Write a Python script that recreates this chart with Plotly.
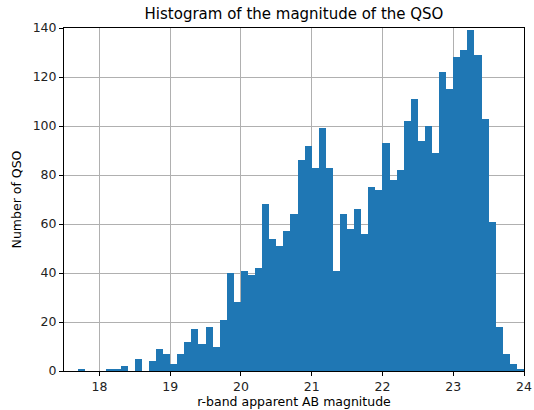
import plotly.graph_objects as go

# Histogram bins (r-band magnitude), width 0.1, left edges from 17.5
bin_start = 17.5
bin_width = 0.1
counts = [0, 0, 1, 0, 0, 0, 1, 1, 2, 0,
          5, 0, 4, 9, 7, 3, 7, 12, 17, 11,
          18, 10, 21, 40, 28, 41, 39, 42, 68, 54,
          51, 57, 64, 86, 92, 83, 99, 83, 41, 64,
          58, 66, 56, 75, 74, 93, 78, 82, 102, 111,
          94, 100, 89, 122, 115, 128, 131, 139, 129, 103,
          61, 18, 7, 3, 1]
x_ticks = [18, 19, 20, 21, 22, 23, 24]
y_ticks = [0, 20, 40, 60, 80, 100, 120, 140]

centers = [bin_start + bin_width * (i + 0.5) for i in range(len(counts))]

fig = go.Figure(go.Bar(
    x=centers, y=counts, width=bin_width,
    marker=dict(color="#1f77b4", line=dict(width=0)),
))

axis_common = dict(
    showline=True, linecolor="black", linewidth=1, mirror=True,
    ticks="outside", ticklen=4, tickcolor="black", tickwidth=1,
    showgrid=True, gridcolor="#b0b0b0", gridwidth=1,
    zeroline=False, layer="above traces", automargin=False,
    tickfont=dict(family="DejaVu Sans", size=12.5, color="#222"),
)

fig.update_layout(
    width=534, height=410,
    margin=dict(l=64, r=10, t=28, b=39),
    paper_bgcolor="white", plot_bgcolor="white",
    bargap=0,
    showlegend=False,
    title=dict(text="Histogram of the magnitude of the QSO", automargin=False,
               x=(64 + 524) / 2 / 534, xanchor="center", y=1 - 14 / 410, yanchor="middle",
               font=dict(family="DejaVu Sans", size=15, color="black")),
    xaxis=dict(range=[17.5, 24], tickvals=x_ticks,
               title=dict(text="r-band apparent AB magnitude", standoff=2,
                          font=dict(family="DejaVu Sans", size=12.5, color="black")),
               **axis_common),
    yaxis=dict(range=[0, 140], tickvals=y_ticks,
               title=dict(text="Number of QSO", standoff=8,
                          font=dict(family="DejaVu Sans", size=12.5, color="black")),
               **axis_common),
)

fig.write_html("out.html")
